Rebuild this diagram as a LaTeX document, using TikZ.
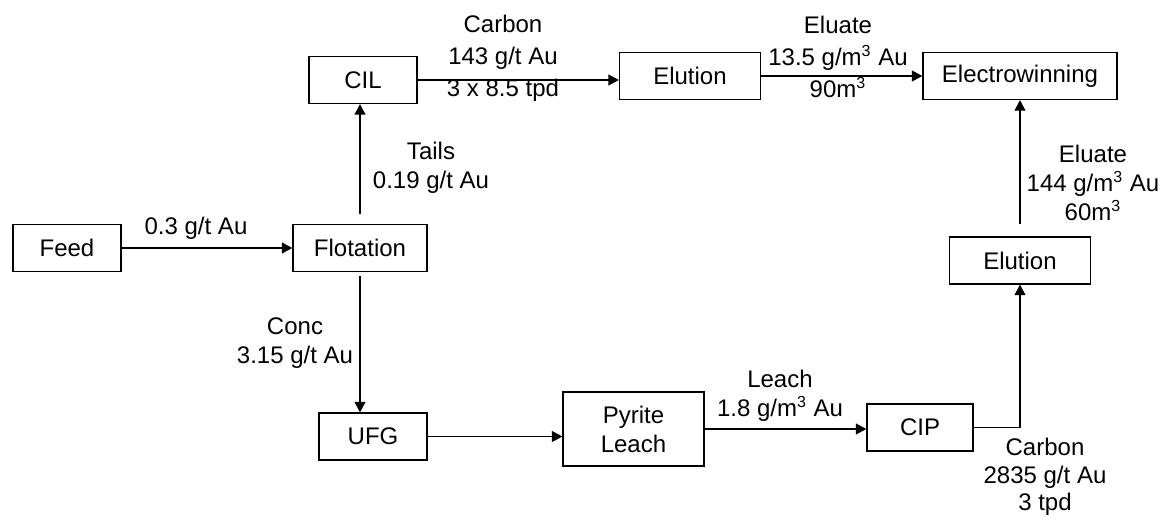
\documentclass[tikz,border=0pt]{standalone}
\usepackage{fontspec}
\setmainfont{Liberation Sans}
\usetikzlibrary{arrows.meta}

\begin{document}
\begin{tikzpicture}[
  x=0.5pt, y=-0.5pt,
  every node/.style={font=\fontsize{12}{14.5}\selectfont},
  unit/.style={draw, line width=.65pt, inner sep=0pt, align=center, minimum height=23.5pt},
  flow/.style={line width=.55pt, -{Triangle[length=5.2pt,width=5.4pt]}},
  tag/.style={align=center, inner sep=0pt}
]
\useasboundingbox (0,0) rectangle (1163,519);
% process units
\node[unit, minimum width=54pt] (feed) at (67,248) {Feed};
\node[unit, minimum width=67pt] (flot) at (360,248) {Flotation};
\node[unit, minimum width=54pt] (cil) at (363,80) {CIL};
\node[unit, minimum width=70.5pt] (elu1) at (690,76) {Elution};
\node[unit, minimum width=97pt] (ew) at (1020,76) {Electrowinning};
\node[unit, minimum width=70.5pt] (elu2) at (1020,260.5) {Elution};
\node[unit, minimum width=54pt] (ufg) at (373,436.5) {UFG};
\node[unit, minimum width=70.5pt, minimum height=37pt] (pyr) at (633.5,429) {Pyrite\\Leach};
\node[unit, minimum width=53pt] (cip) at (920,427.5) {CIP};

% streams
\draw[flow] (feed) -- (flot);
\draw[flow, shorten <=5pt] (flot.north) -- (flot.north |- cil.south);
\draw[flow] (cil.east) -- (cil.east -| elu1.west);
\draw[flow] (elu1) -- (ew);
\draw[flow, shorten <=2pt] (flot.south) -- (flot.south |- ufg.north);
\draw[flow] (ufg.east) -- (ufg.east -| pyr.west);
\draw[flow] (pyr.east) -- (pyr.east -| cip.west);
\draw[flow] (cip.east) -| (elu2.south);
\draw[flow, shorten <=6pt] (elu2.north) -- (ew.south);

% stream labels
\node[tag] (tfeed) at (196,228) {0.3 g/t Au};
\node[tag] (ttail) at (431,168) {Tails\\0.19 g/t Au};
\node[tag] (tconc) at (295,343) {Conc\\3.15 g/t Au};
\node[tag] (tcarb1) at (503,58) {Carbon\\[1.5pt]143 g/t Au\\[1.5pt]3 x 8.5 tpd};
\node[tag] (telu1) at (838,57) {Eluate\\[1.5pt]13.5 g/m\textsuperscript{3} Au\\[1.5pt]90m\textsuperscript{3}};
\node[tag] (telu2) at (1093,183) {Eluate\\144 g/m\textsuperscript{3} Au\\60m\textsuperscript{3}};
\node[tag] (tleach) at (780,396) {Leach\\1.8 g/m\textsuperscript{3} Au};
\node[tag, font=\fontsize{12}{13.8}\selectfont] (tcarb2) at (1045,477) {Carbon\\2835 g/t Au\\3 tpd};
\end{tikzpicture}
\end{document}
